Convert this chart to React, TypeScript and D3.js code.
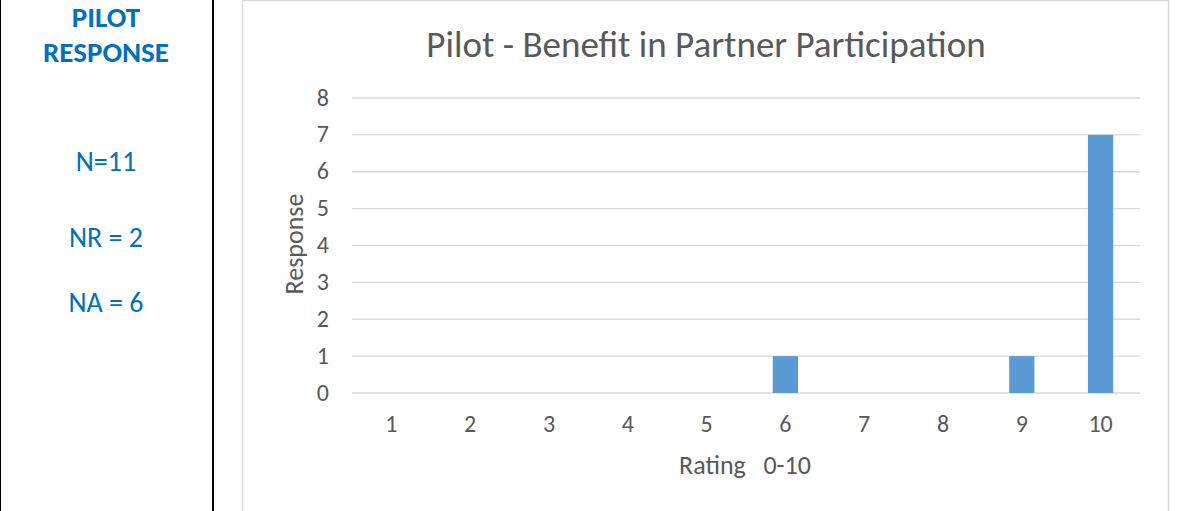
import React from "react";
import * as d3 from "d3";

const categories = ["1", "2", "3", "4", "5", "6", "7", "8", "9", "10"];
const responses = [0, 0, 0, 0, 0, 1, 0, 0, 1, 7];
const yTicks = [0, 1, 2, 3, 4, 5, 6, 7, 8];
const sideLines = ["N=11", "NR = 2", "NA = 6"];
const chartTitle = "Pilot - Benefit in Partner Participation";
const xTitle = "Rating   0-10";
const yTitle = "Response";

const W = 1197;
const H = 511;
const FONT = "Calibri, Carlito, 'Open Sans', 'Noto Sans', sans-serif";

export default function App() {
  const x = d3.scaleBand<string>().domain(categories).range([352, 1140]).paddingInner(0.68).paddingOuter(0.34);
  const y = d3.scaleLinear().domain([0, 8]).range([393, 98]);
  const bw = x.bandwidth();
  const sideY = [171, 247, 312];
  return (
    <svg width={W} height={H} style={{ position: "absolute", left: 0, top: 0, background: "#fff" }}>
      <rect x={0} y={0} width={W} height={H} fill="#fff" />
      <line x1={0.5} y1={0} x2={0.5} y2={H} stroke="#000" strokeWidth={1} />
      <line x1={213} y1={0} x2={213} y2={H} stroke="#000" strokeWidth={2} />
      <text x={106} y={27} textAnchor="middle" fontFamily={FONT} fontWeight="bold" fontSize={29} fill="#0070c0">PILOT</text>
      <text x={106} y={62} textAnchor="middle" fontFamily={FONT} fontWeight="bold" fontSize={29} fill="#0070c0">RESPONSE</text>
      {sideLines.map((s, i) => (
        <text key={s} x={106} y={sideY[i]} textAnchor="middle" fontFamily={FONT} fontSize={28} fill="#0070c0">{s}</text>
      ))}
      <rect x={242.5} y={0.5} width={926} height={H + 10} fill="#fff" stroke="#d9d9d9" strokeWidth={1.5} />
      <text x={706} y={57} textAnchor="middle" fontFamily={FONT} fontSize={37} fill="#595959">{chartTitle}</text>
      {yTicks.map((t) => (
        <g key={t}>
          <line x1={352} x2={1140} y1={y(t)} y2={y(t)} stroke="#d9d9d9" strokeWidth={1.3} />
          <text x={329} y={y(t) + 7.5} textAnchor="end" fontFamily={FONT} fontSize={24} fill="#595959">{t}</text>
        </g>
      ))}
      {categories.map((c, i) => (
        <g key={c}>
          <rect x={x(c)!} y={y(responses[i])} width={bw} height={y(0) - y(responses[i])} fill="#5b9bd5" />
          <text x={x(c)! + bw / 2} y={432} textAnchor="middle" fontFamily={FONT} fontSize={24} fill="#595959">{c}</text>
        </g>
      ))}
      <text x={745} y={474} textAnchor="middle" fontFamily={FONT} fontSize={26} fill="#595959" style={{ whiteSpace: "pre" }}>{xTitle}</text>
      <text transform={`translate(303,244) rotate(-90)`} textAnchor="middle" fontFamily={FONT} fontSize={26} fill="#595959">{yTitle}</text>
    </svg>
  );
}
